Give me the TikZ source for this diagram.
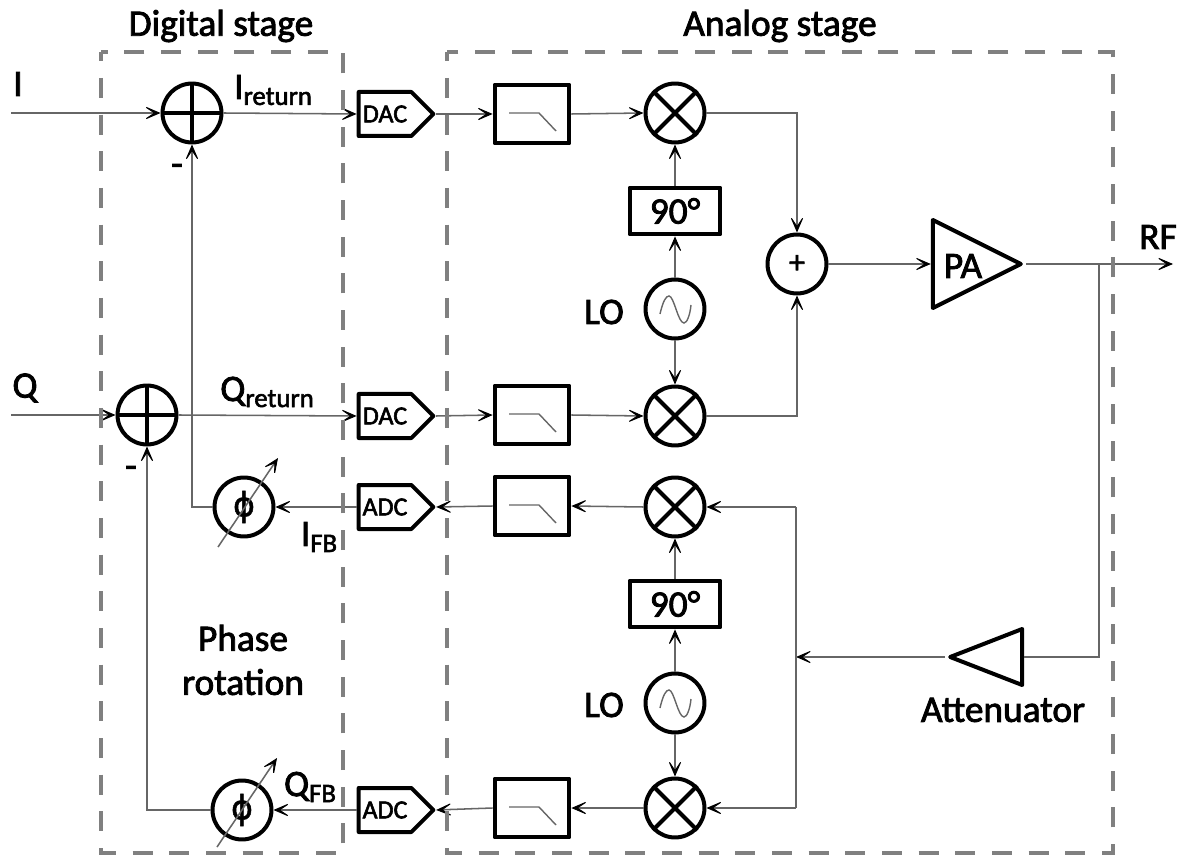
\documentclass[tikz,border=0pt]{standalone}
\usepackage{fontspec}
\setmainfont{Carlito}
\newfontfamily\semib[FakeBold=2.2]{Carlito}
\newfontfamily\phifont[FakeBold=1.5]{DejaVu Sans}
\usetikzlibrary{arrows.meta,shapes.symbols,shapes.geometric}
\definecolor{wire}{gray}{0.4}
\definecolor{frame}{gray}{0.5}
\newcommand{\mylab}[2]{{\fontsize{28}{28}\selectfont #1}\raisebox{-4.5pt}{\fontsize{20}{20}\selectfont #2}}
\tikzset{
  every node/.style={inner sep=0pt,outer sep=0pt},
  wirel/.style={draw=wire,line width=1.15pt},
  arr/.style={wirel,-{Stealth[length=14pt,width=12pt,inset=9pt,line width=0.7pt,color=black,fill=black]}},
  blk/.style={draw=black,line width=3pt,fill=white,line join=round,outer sep=1.5pt},
  circ/.style={blk,circle,minimum size=44.2pt},
  crossl/.style={draw=black,line width=3pt},
  fbox/.style={blk,rectangle,minimum width=56pt,minimum height=44pt},
  phbox/.style={blk,rectangle,minimum width=68pt,minimum height=35pt,font=\semib\fontsize{28}{28}\selectfont},
  conv/.style={blk,signal,signal to=east,signal from=nowhere,signal pointer angle=90,minimum width=56pt,minimum height=33pt,font=\semib\fontsize{19.5}{20}\selectfont},
  stage/.style={draw=frame,line width=3pt,dash pattern=on 15pt off 12.5pt,dash phase=8pt},
  lbl/.style={text=black,font=\semib\fontsize{28}{33}\selectfont,align=center},
  lblb/.style={text=black,font=\semib\fontsize{28}{33}\selectfont,align=center},
  symb/.style={draw=wire,line width=1.05pt},
  tri/.style={blk,isosceles triangle,isosceles triangle stretches,shape border rotate=#1},
  phi/.style={font=\phifont\fontsize{25}{25}\selectfont}
}
\begin{document}
\begin{tikzpicture}[x=0.75pt,y=-0.75pt]
\useasboundingbox (0,0) rectangle (1185,855);
\fill[white] (0,0) rectangle (1185,855);
% free ends and junctions
\coordinate (iin) at (11,113);
\coordinate (qin) at (11,415);
\coordinate (rf) at (1173,264);
\coordinate (tap) at (1099,264);
\coordinate (fbj) at (796,657);
\coordinate (fbtop) at (796,507);
\coordinate (fbbot) at (796,808);
\coordinate (p1a) at (218,547);
\coordinate (p1b) at (278,458);
\coordinate (p2a) at (217,847);
\coordinate (p2b) at (277,758);
% blocks
\node[circ] (s1) at (192,113) {};
\node[circ] (s2) at (147,415) {};
\node[conv] (dac1) at (385,114) {DAC};
\node[conv] (dac2) at (385,416) {DAC};
\node[conv] (adc1) at (385,507) {ADC};
\node[conv] (adc2) at (385,810) {ADC};
\node[fbox] (f1) at (532,114) {};
\node[fbox] (f2) at (532,415) {};
\node[fbox] (f3) at (532,506) {};
\node[fbox] (f4) at (532,808) {};
\node[circ] (m1) at (675,113) {};
\node[circ] (m2) at (675,416) {};
\node[circ] (m3) at (675,507) {};
\node[circ] (m4) at (675,808) {};
\node[phbox] (ph1) at (675,211) {90°};
\node[phbox] (ph2) at (675,604) {90°};
\node[circ] (lo1) at (675,309) {};
\node[circ] (lo2) at (675,703) {};
\node[circ,font=\semib\fontsize{24}{24}\selectfont] (add) at (797,264) {+};
\node[circ,phi] (phi1) at (244,507) {ϕ};
\node[circ,phi] (phi2) at (242,810) {ϕ};
\node[tri=0,minimum width=66pt,minimum height=66pt] (pa) at (960,264) {};
\node[tri=180,minimum width=42pt,minimum height=54pt] (att) at (1003,657) {};
% marks inside the blocks
\foreach \n in {s1,s2}{
  \draw[crossl] (\n.north) -- (\n.south) (\n.west) -- (\n.east);
}
\foreach \n in {m1,m2,m3,m4}{
  \draw[crossl] (\n.north west) -- (\n.south east) (\n.north east) -- (\n.south west);
}
\foreach \n in {f1,f2,f3,f4}{
  \draw[symb,shift={(\n.center)}] (-23,-1) -- (7,-1) -- (24,17);
}
\foreach \n in {lo1,lo2}{
  \draw[symb,shift={(\n.center)}] (-15,5) .. controls (-12,-8) and (-9,-13) .. (-6,-13)
     .. controls (-1,-13) and (3,14) .. (9,14) .. controls (12,14) and (15,6) .. (16,-4);
}
% connectors
\draw[arr] (iin) -- (s1.west);
\draw[arr] (qin) -- (s2.west);
\draw[arr] (s1.east) -- (dac1.west);
\draw[arr] (s2.east) -- (dac2.west);
\draw[arr] (dac1.east) -- (f1.west);
\draw[arr] (dac2.east) -- (f2.west);
\draw[arr] (f1.east) -- (m1.west);
\draw[arr] (f2.east) -- (m2.west);
\draw[arr] (m1.east) -| (add.north);
\draw[arr] (m2.east) -| (add.south);
\draw[arr] (lo1) -- (ph1);
\draw[arr] (ph1) -- (m1);
\draw[arr] (lo1) -- (m2);
\draw[arr] (lo2) -- (ph2);
\draw[arr] (ph2) -- (m3);
\draw[arr] (lo2) -- (m4);
\draw[arr] (add.east) -- (pa.lower side);
\draw[arr] (pa.apex) -- (rf);
\draw[wirel] (tap) |- (att.lower side);
\draw[arr] (att.apex) -- (fbj);
\draw[wirel] (fbtop) -- (fbbot);
\draw[arr] (fbtop) -- (m3.east);
\draw[arr] (fbbot) -- (m4.east);
\draw[arr] (m3.west) -- (f3.east);
\draw[arr] (m4.west) -- (f4.east);
\draw[arr] (f3.west) -- (adc1.east);
\draw[arr] (f4.west) -- (adc2.east);
\draw[arr] (adc1.west) -- (phi1.east);
\draw[arr] (adc2.west) -- (phi2.east);
\draw[arr] (phi1.west) -| (s1.south);
\draw[arr] (phi2.west) -| (s2.south);
\draw[arr] (p1a) -- (p1b);
\draw[arr] (p2a) -- (p2b);
% stage frames
\draw[stage] (101,52) rectangle (343,853);
\draw[stage] (447,52) rectangle (1113,853);
% labels
\node[lblb] (tdig) at (221,26) {Digital stage};
\node[lblb] (tana) at (780,26) {Analog stage};
\node[lblb] (li) at (18,84) {I};
\node[lblb] (lq) at (25,388) {Q};
\node[lblb] (lir) at (273,90) {\mylab{I}{return}};
\node[lblb] (lqr) at (267,392) {\mylab{Q}{return}};
\node[lblb] (lif) at (319,537) {\mylab{I}{FB}};
\node[lblb] (lqf) at (310,787) {\mylab{Q}{FB}};
\node[lblb] (lm1) at (177,170) {-};
\node[lblb] (lm2) at (131,472) {-};
\node[lblb] (lph) at (243,660) {Phase\\rotation};
\node[lbl] (llo1) at (604,312) {LO};
\node[lbl] (llo2) at (604,705) {LO};
\node[lblb] (lpa) at (963,266) {PA};
\node[lblb] (lrf) at (1158,237) {RF};
\node[lblb] (lat) at (1003,710) {Attenuator};
\end{tikzpicture}
\end{document}
